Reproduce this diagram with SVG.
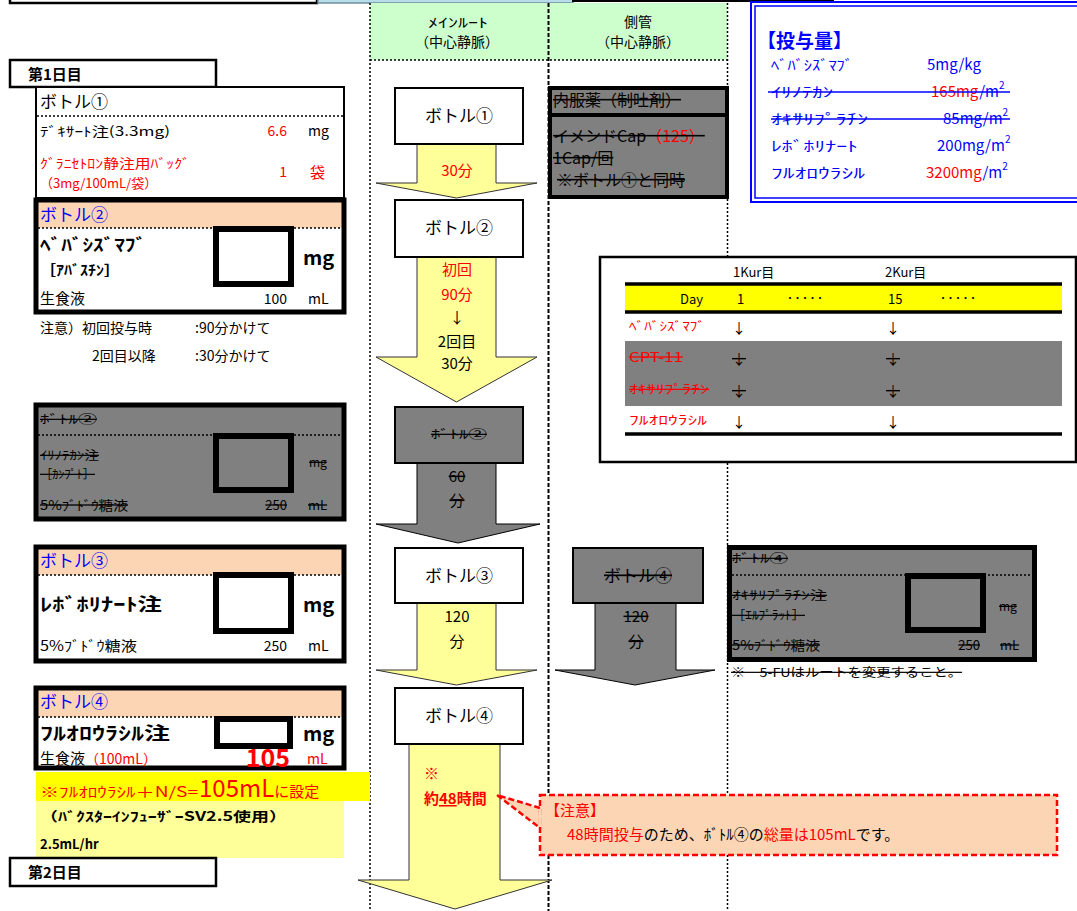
<svg xmlns="http://www.w3.org/2000/svg" width="1077" height="911" viewBox="0 0 1077 911">
<style>
text{font-family:"Noto Sans CJK JP","Noto Sans",sans-serif;fill:#000}
.b{font-weight:bold}
.r{fill:#ff0000}
.bl{fill:#0000ff}
.s{text-decoration:line-through}
.c{text-anchor:middle}
.e{text-anchor:end}
.box{fill:#fff;stroke:#000;stroke-width:2}
.thick{fill:none;stroke:#000;stroke-width:5}
.inp{fill:#fff;stroke:#000;stroke-width:6}
.ginp{fill:#808080;stroke:#000;stroke-width:6}
.dot{stroke:#000;stroke-width:1.5;stroke-dasharray:2 2;fill:none}
.ya{fill:#ffff99;stroke:#333;stroke-width:1}
.ga{fill:#808080;stroke:#000;stroke-width:1}
.peach{fill:#fcd5b4}
</style>

<g id="top-strips">
<rect x="10" y="-20" width="307" height="23" fill="#fff" stroke="#000" stroke-width="2.5"/>
<rect x="318" y="-20" width="255" height="23" fill="#b7dee8" stroke="#6f8f9f" stroke-width="1.5"/>
<rect x="573" y="-20" width="260" height="21" fill="#ffff99" stroke="#000" stroke-width="2"/>
</g>

<g id="route-header">
<rect x="370" y="3" width="357" height="57" fill="#ccffcc"/>
<line x1="370" y1="60" x2="727" y2="60" class="dot"/>
<text x="428" y="27" font-size="13" textLength="60" lengthAdjust="spacingAndGlyphs">ﾒｲﾝﾙｰﾄ</text>
<text x="457" y="47" font-size="14" class="c">（中心静脈）</text>
<text x="638" y="27" font-size="14" class="c">側管</text>
<text x="638" y="47" font-size="14" class="c">（中心静脈）</text>
</g>

<g id="route-lines">
<line x1="370" y1="3" x2="370" y2="911" class="dot"/>
<line x1="548.5" y1="3" x2="548.5" y2="911" stroke="#000" stroke-width="2" stroke-dasharray="4 2"/>
<line x1="727.5" y1="3" x2="727.5" y2="911" class="dot"/>
</g>

<g id="day1">
<rect x="10" y="60" width="206" height="27" fill="#fff" stroke="#000" stroke-width="2.5"/>
<text x="28" y="80" font-size="15" class="b">第1日目</text>
</g>

<g id="bottle1-detail">
<rect x="36" y="87" width="308" height="111" fill="#fff" stroke="#000" stroke-width="2"/>
<text x="40" y="108" font-size="17">ボトル①</text>
<line x1="37" y1="116" x2="343" y2="116" class="dot"/>
<text x="40" y="136" font-size="13" textLength="130" lengthAdjust="spacingAndGlyphs">ﾃﾞｷｻｰﾄ注(3.3mg)</text>
<text x="287" y="136" font-size="14" class="r e">6.6</text>
<text x="308" y="136" font-size="14">mg</text>
<text x="40" y="168" font-size="13" class="r" textLength="150" lengthAdjust="spacingAndGlyphs">ｸﾞﾗﾆｾﾄﾛﾝ静注用ﾊﾞｯｸﾞ</text>
<text x="40" y="188" font-size="13" class="r">（3mg/100mL/袋）</text>
<text x="287" y="177" font-size="14" class="r e">1</text>
<text x="310" y="178" font-size="15" class="r">袋</text>
</g>

<g id="bottle2-detail">
<rect x="36" y="200" width="308" height="112" fill="#fff"/>
<rect x="38" y="202" width="304" height="26" class="peach"/>
<line x1="38" y1="228" x2="342" y2="228" class="dot"/>
<rect x="36" y="200" width="308" height="112" class="thick"/>
<text x="40" y="221" font-size="17" class="bl">ボトル②</text>
<rect x="216" y="229" width="75" height="55" class="inp"/>
<text x="40" y="251" font-size="17" class="b" textLength="106" lengthAdjust="spacingAndGlyphs">ﾍﾞﾊﾞｼｽﾞﾏﾌﾞ</text>
<text x="40" y="275" font-size="14" class="b" textLength="80" lengthAdjust="spacingAndGlyphs">［ｱﾊﾞｽﾁﾝ］</text>
<text x="303" y="265" font-size="20" class="b">mg</text>
<text x="40" y="304" font-size="15">生食液</text>
<text x="287" y="304" font-size="14" class="e">100</text>
<text x="308" y="304" font-size="14">mL</text>
</g>

<g id="bottle2-note">
<text x="40" y="333" font-size="14">注意）初回投与時</text>
<text x="195" y="333" font-size="14">:90分かけて</text>
<text x="92" y="361" font-size="14">2回目以降</text>
<text x="195" y="361" font-size="14">:30分かけて</text>
</g>

<g id="bottle2-irinotecan">
<rect x="36" y="405" width="308" height="114" fill="#808080"/>
<line x1="38" y1="435" x2="342" y2="435" class="dot"/>
<rect x="36" y="405" width="308" height="114" class="thick"/>
<text x="40" y="424" font-size="12" class="s" textLength="57" lengthAdjust="spacingAndGlyphs">ﾎﾞﾄﾙ②</text>
<rect x="216" y="436" width="75" height="54" class="ginp"/>
<text x="40" y="460" font-size="12" class="s" textLength="59" lengthAdjust="spacingAndGlyphs">ｲﾘﾉﾃｶﾝ注</text>
<text x="40" y="479" font-size="12" class="s" textLength="55" lengthAdjust="spacingAndGlyphs">［ｶﾝﾌﾟﾄ］</text>
<text x="309" y="467" font-size="12" class="s">mg</text>
<text x="40" y="510" font-size="13" class="s" textLength="88" lengthAdjust="spacingAndGlyphs">5%ﾌﾞﾄﾞｳ糖液</text>
<text x="287" y="510" font-size="13" class="s e">250</text>
<text x="308" y="510" font-size="13" class="s">mL</text>
</g>

<g id="bottle3-detail">
<rect x="36" y="547" width="308" height="114" fill="#fff"/>
<rect x="38" y="549" width="304" height="26" class="peach"/>
<line x1="38" y1="575" x2="342" y2="575" class="dot"/>
<rect x="36" y="547" width="308" height="114" class="thick"/>
<text x="40" y="567" font-size="17" class="bl">ボトル③</text>
<rect x="216" y="575" width="75" height="56" class="inp"/>
<text x="40" y="611" font-size="18" class="b" textLength="122" lengthAdjust="spacingAndGlyphs">ﾚﾎﾞﾎﾘﾅｰﾄ注</text>
<text x="303" y="612" font-size="20" class="b">mg</text>
<text x="40" y="651" font-size="14" textLength="97" lengthAdjust="spacingAndGlyphs">5%ﾌﾞﾄﾞｳ糖液</text>
<text x="287" y="651" font-size="14" class="e">250</text>
<text x="308" y="651" font-size="14">mL</text>
</g>

<g id="bottle4-detail">
<rect x="36" y="688" width="308" height="80" fill="#fff"/>
<rect x="38" y="690" width="304" height="27" class="peach"/>
<line x1="38" y1="717" x2="342" y2="717" class="dot"/>
<rect x="36" y="688" width="308" height="80" class="thick"/>
<text x="40" y="708" font-size="17" class="bl">ボトル④</text>
<rect x="217" y="719" width="73" height="27" class="inp"/>
<text x="40" y="740" font-size="18" class="b" textLength="130" lengthAdjust="spacingAndGlyphs">ﾌﾙｵﾛｳﾗｼﾙ注</text>
<text x="303" y="741" font-size="20" class="b">mg</text>
<text x="40" y="764" font-size="15">生食液<tspan class="r" font-size="14">（100mL）</tspan></text>
<text x="290" y="767" font-size="25" class="b r e">105</text>
<text x="307" y="764" font-size="14" class="r">mL</text>
</g>

<g id="infusor-note">
<rect x="36" y="772" width="334" height="29" fill="#ffff00"/>
<rect x="36" y="801" width="308" height="57" fill="#ffff99"/>
<text x="40" y="797" font-size="14" class="r" textLength="158" lengthAdjust="spacingAndGlyphs">※ﾌﾙｵﾛｳﾗｼﾙ＋N/S=</text>
<text x="199" y="797" font-size="24" class="r">105mL<tspan font-size="15">に設定</tspan></text>
<text x="40" y="821" font-size="13" class="b" textLength="247" lengthAdjust="spacingAndGlyphs">（ﾊﾞｸｽﾀｰｲﾝﾌｭｰｻﾞｰSV2.5使用）</text>
<text x="40" y="849" font-size="13" class="b">2.5mL/hr</text>
</g>

<g id="day2">
<rect x="10" y="858" width="206" height="28" fill="#fff" stroke="#000" stroke-width="2.5"/>
<text x="28" y="878" font-size="15" class="b">第2日目</text>
</g>

<g id="dose-box">
<rect x="751" y="2" width="340" height="200" fill="#fff" stroke="#0000ff" stroke-width="2"/>
<rect x="755" y="6" width="332" height="192" fill="none" stroke="#0000ff" stroke-width="1.5"/>
<text x="757" y="48" font-size="19" class="b bl">【投与量】</text>
<text x="771" y="70" font-size="14" class="bl" textLength="82" lengthAdjust="spacingAndGlyphs">ﾍﾞﾊﾞｼｽﾞﾏﾌﾞ</text>
<text x="927" y="70" font-size="15" class="bl">5mg/kg</text>
<text x="771" y="97" font-size="14" class="bl" textLength="62" lengthAdjust="spacingAndGlyphs">ｲﾘﾉﾃｶﾝ</text>
<text x="931" y="97" font-size="15" class="r">165mg<tspan class="bl">/m</tspan><tspan class="bl" font-size="10" dy="-8">2</tspan></text>
<line x1="768" y1="92" x2="1010" y2="92" stroke="#0000ff" stroke-width="1.5"/>
<text x="771" y="124" font-size="14" class="bl" textLength="97" lengthAdjust="spacingAndGlyphs">ｵｷｻﾘﾌﾟﾗﾁﾝ</text>
<text x="943" y="124" font-size="15" class="bl">85mg/m<tspan font-size="10" dy="-8">2</tspan></text>
<line x1="771" y1="119" x2="1010" y2="119" stroke="#0000ff" stroke-width="1.5"/>
<text x="771" y="151" font-size="14" class="bl" textLength="87" lengthAdjust="spacingAndGlyphs">ﾚﾎﾞﾎﾘﾅｰﾄ</text>
<text x="937" y="151" font-size="15" class="bl">200mg/m<tspan font-size="10" dy="-8">2</tspan></text>
<text x="771" y="178" font-size="14" class="bl" textLength="94" lengthAdjust="spacingAndGlyphs">ﾌﾙｵﾛｳﾗｼﾙ</text>
<text x="926" y="178" font-size="15" class="r">3200mg<tspan class="bl">/m</tspan><tspan class="bl" font-size="10" dy="-8">2</tspan></text>
</g>

<g id="antiemetic-box">
<rect x="550" y="88" width="177" height="109" fill="#808080" stroke="#000" stroke-width="4"/>
<line x1="550" y1="115" x2="727" y2="115" stroke="#000" stroke-width="4"/>
<text x="553" y="106" font-size="16" class="s">内服薬（制吐剤）</text>
<text x="553" y="142" font-size="16" class="s">イメンドCap<tspan class="r">（125）</tspan></text>
<text x="553" y="164" font-size="16" class="s">1Cap/回</text>
<text x="557" y="186" font-size="16" class="s">※ボトル①と同時</text>
</g>

<g id="schedule-table">
<rect x="600" y="257" width="476" height="205" fill="#fff" stroke="#000" stroke-width="2.5"/>
<text x="733" y="277" font-size="13">1Kur目</text>
<text x="885" y="277" font-size="13">2Kur目</text>
<rect x="625" y="284" width="437" height="28" fill="#ffff00"/>
<line x1="625" y1="284" x2="1062" y2="284" stroke="#000" stroke-width="3.5"/>
<line x1="625" y1="312" x2="1062" y2="312" stroke="#000" stroke-width="3.5"/>
<text x="680" y="304" font-size="13">Day</text>
<text x="737" y="304" font-size="13">1</text>
<text x="785" y="302" font-size="10" textLength="40">・・・・・</text>
<text x="888" y="304" font-size="13">15</text>
<text x="938" y="302" font-size="10" textLength="40">・・・・・</text>
<text x="629" y="331" font-size="12" class="r" textLength="76" lengthAdjust="spacingAndGlyphs">ﾍﾞﾊﾞｼｽﾞﾏﾌﾞ</text>
<text x="739" y="333" font-size="14" class="c">↓</text>
<text x="893" y="333" font-size="14" class="c">↓</text>
<rect x="625" y="341" width="437" height="65" fill="#808080"/>
<text x="629" y="362" font-size="13" class="r s" textLength="54" lengthAdjust="spacingAndGlyphs">CPT-11</text>
<text x="739" y="364" font-size="14" class="c s">↓</text>
<text x="893" y="364" font-size="14" class="c s">↓</text>
<text x="629" y="394" font-size="12" class="r s" textLength="80" lengthAdjust="spacingAndGlyphs">ｵｷｻﾘﾌﾟﾗﾁﾝ</text>
<text x="739" y="396" font-size="14" class="c s">↓</text>
<text x="893" y="396" font-size="14" class="c s">↓</text>
<text x="629" y="425" font-size="12" class="r" textLength="78" lengthAdjust="spacingAndGlyphs">ﾌﾙｵﾛｳﾗｼﾙ</text>
<text x="739" y="427" font-size="14" class="c">↓</text>
<text x="893" y="427" font-size="14" class="c">↓</text>
<line x1="625" y1="434" x2="1062" y2="434" stroke="#000" stroke-width="3.5"/>
</g>

<g id="side-bottle4-detail">
<rect x="729.5" y="547.5" width="305" height="112" fill="#808080"/>
<line x1="732" y1="575" x2="1032" y2="575" class="dot"/>
<rect x="729.5" y="547.5" width="305" height="112" class="thick"/>
<text x="732" y="563" font-size="12" class="s" textLength="56" lengthAdjust="spacingAndGlyphs">ﾎﾞﾄﾙ④</text>
<rect x="908" y="576" width="75" height="54" class="ginp"/>
<text x="732" y="600" font-size="12" class="s" textLength="95" lengthAdjust="spacingAndGlyphs">ｵｷｻﾘﾌﾟﾗﾁﾝ注</text>
<text x="732" y="620" font-size="12" class="s" textLength="73" lengthAdjust="spacingAndGlyphs">［ｴﾙﾌﾟﾗｯﾄ］</text>
<text x="999" y="611" font-size="12" class="s">mg</text>
<text x="732" y="650" font-size="13" class="s" textLength="88" lengthAdjust="spacingAndGlyphs">5%ﾌﾞﾄﾞｳ糖液</text>
<text x="980" y="650" font-size="13" class="s e">250</text>
<text x="1000" y="650" font-size="13" class="s">mL</text>
<text x="731" y="677" font-size="12" class="s" textLength="231" lengthAdjust="spacingAndGlyphs">※　5-FUはルートを変更すること。</text>
</g>

<g id="connectors">
<polygon class="ya" points="417,144 496,144 496,183 537,183 456.5,198 376,183 417,183"/>
<polygon class="ya" points="417,257 496,257 496,357 537,357 456.5,402 376,357 417,357"/>
<polygon class="ga" points="417,463 496,463 496,524 540,524 458,543 376,524 417,524"/>
<polygon class="ya" points="417,603 496,603 496,670 537,670 456.5,685 376,670 417,670"/>
<polygon class="ga" points="595,603 676,603 676,670 715,670 635,685 555,670 595,670"/>
<polygon class="ya" points="409,744 500,744 500,880 552,880 455,909 358,880 409,880"/>
<path d="M540,808 L497,795 L540,828" fill="#fcd5b4" stroke="#ff0000" stroke-width="2.5" stroke-dasharray="6 3"/>
</g>

<g id="arrow-labels">
<text x="457" y="176" font-size="15" class="r c">30分</text>
<text x="457" y="275" font-size="15" class="r c">初回</text>
<text x="457" y="300" font-size="15" class="r c">90分</text>
<text x="457" y="323" font-size="15" class="c">↓</text>
<text x="457" y="347" font-size="15" class="c">2回目</text>
<text x="457" y="369" font-size="15" class="c">30分</text>
<text x="457" y="482" font-size="15" class="c s">60</text>
<text x="457" y="506" font-size="15" class="c s">分</text>
<text x="457" y="622" font-size="15" class="c">120</text>
<text x="457" y="647" font-size="15" class="c">分</text>
<text x="636" y="622" font-size="15" class="c s">120</text>
<text x="636" y="647" font-size="15" class="c s">分</text>
<text x="424" y="779" font-size="15" class="b r">※</text>
<text x="424" y="804" font-size="15" class="b r">約<tspan text-decoration="underline">48</tspan>時間</text>
</g>

<g id="main-bottle1"><rect x="395" y="88" width="128" height="56" class="box"/><text x="459" y="122" font-size="17" class="c">ボトル①</text></g>
<g id="main-bottle2"><rect x="395" y="200" width="128" height="57" class="box"/><text x="459" y="234" font-size="17" class="c">ボトル②</text></g>
<g id="main-bottle2-gray"><rect x="395" y="407" width="128" height="56" fill="#808080" stroke="#000" stroke-width="2"/><text x="431" y="439" font-size="12" class="s" textLength="56" lengthAdjust="spacingAndGlyphs">ﾎﾞﾄﾙ②</text></g>
<g id="main-bottle3"><rect x="395" y="548" width="128" height="55" class="box"/><text x="459" y="582" font-size="17" class="c">ボトル③</text></g>
<g id="side-bottle4"><rect x="573" y="548" width="130" height="55" fill="#808080" stroke="#000" stroke-width="2"/><text x="638" y="582" font-size="17" class="c s">ボトル④</text></g>
<g id="main-bottle4"><rect x="395" y="688" width="128" height="56" class="box"/><text x="459" y="722" font-size="17" class="c">ボトル④</text></g>

<g id="callout">
<rect x="540" y="795" width="517" height="60" fill="#fcd5b4" stroke="#ff0000" stroke-width="2.5" stroke-dasharray="6 3"/>
<line x1="540" y1="809" x2="540" y2="827" stroke="#fcd5b4" stroke-width="3"/>
<text x="545" y="816" font-size="15" class="r">【注意】</text>
<text x="567" y="840" font-size="15" class="r">48時間投与<tspan fill="#000">のため、</tspan><tspan fill="#000">ﾎﾞﾄﾙ④</tspan><tspan fill="#000">の</tspan>総量は105mL<tspan fill="#000">です。</tspan></text>
</g>
</svg>
